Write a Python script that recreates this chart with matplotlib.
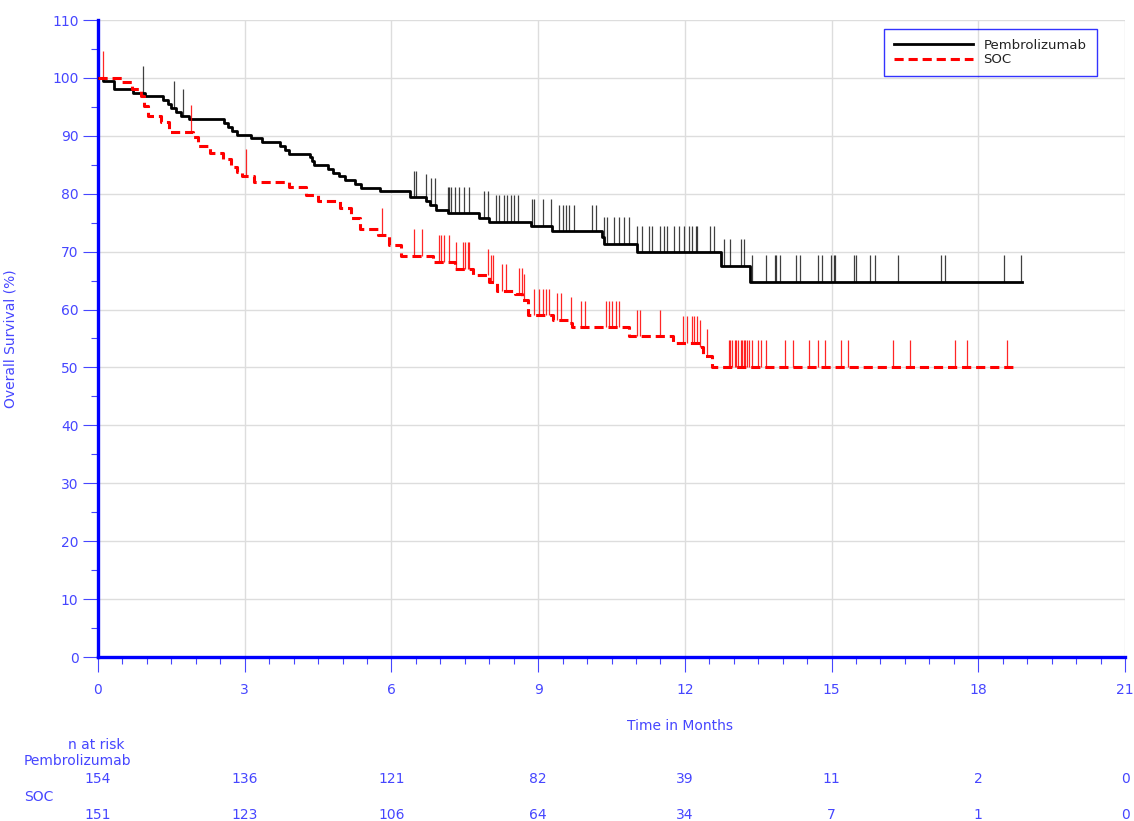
import numpy as np
import matplotlib
matplotlib.use('Agg')
import matplotlib.pyplot as plt
import matplotlib.transforms as mtransforms

# ---- Kaplan-Meier steps ----

pem_t = [0, 0.11, 0.32, 0.72, 0.96, 1.33, 1.43, 1.50, 1.60, 1.70, 1.87, 2.58, 2.65, 2.75,
         2.85, 3.12, 3.36, 3.73, 3.83, 3.90, 4.34, 4.37, 4.42, 4.71, 4.80, 4.93, 5.05, 5.25,
         5.38, 5.76, 6.37, 6.71, 6.78, 6.91, 7.15, 7.80, 8.00, 8.85, 9.29, 10.30, 10.35,
         11.03, 12.73, 13.34, 18.90]
pem_s = [100, 99.4, 98.1, 97.4, 96.8, 96.1, 95.5, 94.8, 94.1, 93.5, 92.9, 92.2, 91.5, 90.9,
         90.2, 89.6, 88.9, 88.3, 87.6, 86.9, 86.3, 85.6, 85.0, 84.3, 83.6, 83.0, 82.3, 81.7,
         81.0, 80.4, 79.4, 78.8, 78.1, 77.2, 76.6, 75.8, 75.1, 74.5, 73.5, 72.6, 71.3,
         69.9, 67.6, 64.8, 64.8]

soc_t = [0, 0.50, 0.70, 0.88, 0.95, 1.02, 1.28, 1.45, 1.95, 2.05, 2.30, 2.55, 2.72, 2.85,
         2.95, 3.20, 3.90, 4.25, 4.50, 4.95, 5.18, 5.35, 5.72, 5.95, 6.20, 6.85, 7.30, 7.66,
         8.00, 8.15, 8.52, 8.68, 8.80, 9.30, 9.62, 9.70, 10.85, 11.75, 12.30, 12.37, 12.55,
         18.70]
soc_s = [100, 99.3, 98.1, 96.9, 95.2, 93.4, 92.3, 90.7, 89.8, 88.3, 87.1, 86.0, 84.6, 83.7,
         83.1, 82.1, 81.2, 79.7, 78.7, 77.5, 75.8, 73.9, 72.9, 71.2, 69.3, 68.2, 67.0, 65.9,
         64.8, 63.2, 62.6, 61.6, 59.0, 58.2, 57.6, 56.9, 55.4, 54.2, 53.6, 52.0, 50.1,
         50.1]

# censor times
pem_cens = [0.91, 1.55, 1.73, 6.47, 6.50, 6.71, 6.81, 6.90, 7.15, 7.18, 7.22, 7.31, 7.39,
            7.49, 7.58, 7.90, 7.97, 8.14, 8.20, 8.31, 8.37, 8.44, 8.51, 8.58, 8.88, 8.92,
            9.09, 9.26, 9.43, 9.50, 9.56, 9.63, 9.73, 10.11, 10.18, 10.35, 10.41, 10.55,
            10.65, 10.76, 10.86, 11.03, 11.13, 11.27, 11.33, 11.50, 11.57, 11.64, 11.78,
            11.88, 11.98, 12.08, 12.15, 12.22, 12.25, 12.52, 12.59, 12.80, 12.93, 13.14,
            13.20, 13.37, 13.65, 13.84, 13.87, 13.94, 14.28, 14.35, 14.72, 14.80, 14.99,
            15.04, 15.08, 15.45, 15.50, 15.79, 15.89, 16.35, 17.24, 17.31, 18.53, 18.87]
soc_cens = [0.11, 1.91, 3.02, 5.80, 6.47, 6.63, 6.97, 7.01, 7.07, 7.18, 7.33, 7.46, 7.51,
            7.56, 7.59, 7.97, 8.03, 8.08, 8.27, 8.34, 8.61, 8.67, 8.71, 8.92, 9.02, 9.09,
            9.16, 9.22, 9.39, 9.46, 9.67, 9.87, 9.96, 10.38, 10.45, 10.52, 10.59, 10.65,
            11.03, 11.09, 11.50, 11.96, 12.05, 12.14, 12.18, 12.25, 12.30, 12.46, 12.90,
            12.93, 12.97, 13.02, 13.05, 13.09, 13.14, 13.17, 13.20, 13.24, 13.27, 13.31,
            13.37, 13.50, 13.55, 13.65, 14.05, 14.22, 14.53, 14.73, 14.87, 15.20, 15.33,
            16.25, 16.60, 17.52, 17.76, 18.58]

# number at risk table
risk_times = [0, 3, 6, 9, 12, 15, 18, 21]
pem_risk = [154, 136, 121, 82, 39, 11, 2, 0]
soc_risk = [151, 123, 106, 64, 34, 7, 1, 0]

BLUE = '#0000ff'
TXT = '#4646ff'


def step_value(times, surv, c):
    idx = np.searchsorted(times, c, side='right') - 1
    return np.asarray(surv)[idx]


fig = plt.figure(figsize=(11.34, 8.21), dpi=100)
ax = fig.add_axes([98 / 1134, 1 - 657 / 821, 1027 / 1134, 637 / 821])

ax.step(pem_t, pem_s, where='post', color='black', lw=2.0, label='Pembrolizumab', zorder=3)
ax.step(soc_t, soc_s, where='post', color='red', lw=2.2, ls=(0, (3, 1.6)),
        label='SOC', zorder=3)

tick_h = 4.6
pc = np.array(pem_cens)
pv = step_value(pem_t, pem_s, pc)
ax.vlines(pc, pv, pv + tick_h, color='black', lw=0.9, alpha=0.75, zorder=3)
sc = np.array(soc_cens)
sv = step_value(soc_t, soc_s, sc)
ax.vlines(sc, sv, sv + tick_h, color='red', lw=0.9, alpha=0.85, zorder=3)

ax.set_xlim(0, 21)
ax.set_ylim(0, 110)
ax.set_xticks(np.arange(0, 22, 3))
ax.set_xticks(np.arange(0, 21.01, 0.5), minor=True)
ax.set_yticks(np.arange(0, 111, 10))
ax.set_yticks(np.arange(0, 111, 5), minor=True)
ax.grid(True, which='major', color='#dddddd', lw=1.0, zorder=0)
ax.set_axisbelow(True)

for side in ['top', 'right']:
    ax.spines[side].set_visible(False)
for side in ['left', 'bottom']:
    ax.spines[side].set_color(BLUE)
    ax.spines[side].set_linewidth(2.4)

ax.tick_params(which='major', length=11, width=0.8, color=TXT, labelcolor=TXT,
               labelsize=10)
ax.tick_params(which='minor', length=5, width=0.8, color=TXT)
ax.tick_params(axis='x', which='major', pad=8)
ax.tick_params(axis='y', which='major', pad=3)

ax.set_xlabel('Time in Months', color=TXT, fontsize=10)
ax.xaxis.set_label_coords(0.567, -0.098)
ax.set_ylabel('Overall Survival (%)', color=TXT, fontsize=10)
ax.yaxis.set_label_coords(-0.078, 0.5)

leg = ax.legend(loc='upper left', bbox_to_anchor=(786 / 1027, 628 / 637),
                borderaxespad=0, fontsize=9.5, handlelength=6.0, handletextpad=0.8,
                borderpad=0.75, labelspacing=0.1, fancybox=False, labelcolor='#222222')
leg.get_frame().set_edgecolor(BLUE)
leg.get_frame().set_facecolor('none')
leg.get_frame().set_linewidth(1.0)

# ---- Number at risk ----
tr = mtransforms.blended_transform_factory(ax.transData, fig.transFigure)
fig.text(96 / 1134, 1 - 745 / 821, 'n at risk', color=TXT, fontsize=10,
         ha='center', va='center')
fig.text(24 / 1134, 1 - 761 / 821, 'Pembrolizumab', color=TXT, fontsize=10,
         ha='left', va='center')
fig.text(24 / 1134, 1 - 797 / 821, 'SOC', color=TXT, fontsize=10,
         ha='left', va='center')
for t, n1, n2 in zip(risk_times, pem_risk, soc_risk):
    ax.text(t, 1 - 779 / 821, str(n1), transform=tr, color=TXT, fontsize=10,
            ha='center', va='center', clip_on=False)
    ax.text(t, 1 - 815 / 821, str(n2), transform=tr, color=TXT, fontsize=10,
            ha='center', va='center', clip_on=False)

fig.savefig('out.png', dpi=100)
